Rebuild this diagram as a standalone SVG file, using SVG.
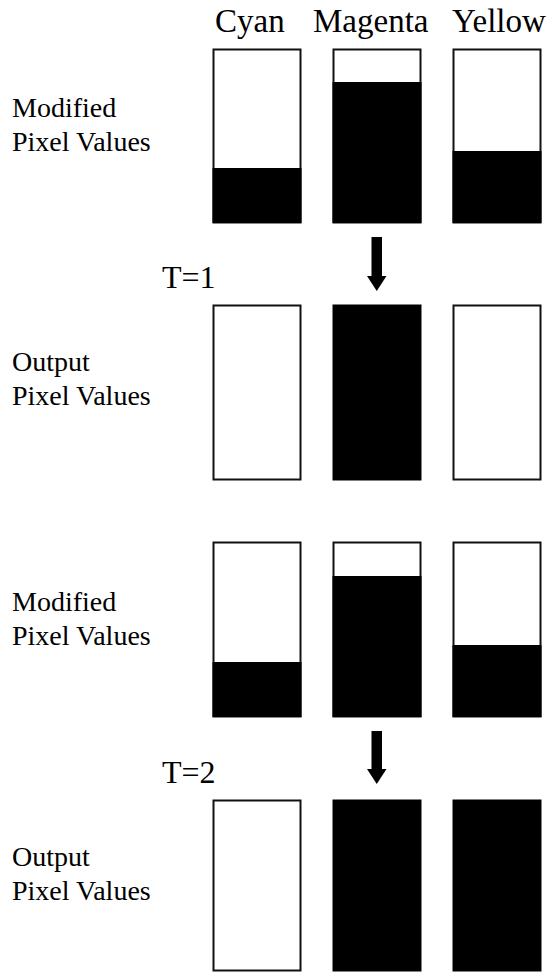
<svg xmlns="http://www.w3.org/2000/svg" width="550" height="973" viewBox="0 0 550 973">
  <style>
    .head { font-size: 33px; }
    .label { font-size: 28px; }
    .step { font-size: 32px; }
    .box { fill: #fff; stroke: #111; stroke-width: 2; }
    .level { fill: #000; }
    .arrow { fill: #000; }
  </style>

  <g style="font-family: 'Liberation Serif', 'DejaVu Serif', serif; fill: #000;">
    <!-- channel headers -->
    <g id="headers">
      <text class="head" x="215" y="32">Cyan</text>
      <text class="head" x="313" y="32">Magenta</text>
      <text class="head" x="452" y="32">Yellow</text>
    </g>

    <!-- row 1: modified pixel values -->
    <g id="row-modified-1">
      <text class="label" x="12" y="117">Modified</text>
      <text class="label" x="12" y="151">Pixel Values</text>
      <g id="mod1-cyan">
        <rect class="box" x="213.5" y="49.5" width="87" height="173"/>
        <rect class="level" x="212.5" y="168" width="89" height="55"/>
      </g>
      <g id="mod1-magenta">
        <rect class="box" x="333.5" y="49.5" width="87" height="173"/>
        <rect class="level" x="332.5" y="82" width="89" height="141"/>
      </g>
      <g id="mod1-yellow">
        <rect class="box" x="453.5" y="49.5" width="87" height="173"/>
        <rect class="level" x="452.5" y="151" width="89" height="72"/>
      </g>
    </g>

    <!-- row 2: output pixel values, T=1 -->
    <g id="row-output-1">
      <text class="step" x="162" y="288">T=1</text>
      <text class="label" x="12" y="371">Output</text>
      <text class="label" x="12" y="405">Pixel Values</text>
      <g id="out1-cyan">
        <rect class="box" x="213.5" y="305.5" width="87" height="174"/>
      </g>
      <g id="out1-magenta">
        <rect class="level" x="332.5" y="304.5" width="89" height="176"/>
      </g>
      <g id="out1-yellow">
        <rect class="box" x="453.5" y="305.5" width="87" height="174"/>
      </g>
    </g>

    <!-- row 3: modified pixel values -->
    <g id="row-modified-2">
      <text class="label" x="12" y="611">Modified</text>
      <text class="label" x="12" y="645">Pixel Values</text>
      <g id="mod2-cyan">
        <rect class="box" x="213.5" y="542.5" width="87" height="174"/>
        <rect class="level" x="212.5" y="662" width="89" height="55"/>
      </g>
      <g id="mod2-magenta">
        <rect class="box" x="333.5" y="542.5" width="87" height="174"/>
        <rect class="level" x="332.5" y="576" width="89" height="141"/>
      </g>
      <g id="mod2-yellow">
        <rect class="box" x="453.5" y="542.5" width="87" height="174"/>
        <rect class="level" x="452.5" y="645" width="89" height="72"/>
      </g>
    </g>

    <!-- row 4: output pixel values, T=2 -->
    <g id="row-output-2">
      <text class="step" x="162" y="783">T=2</text>
      <text class="label" x="12" y="866">Output</text>
      <text class="label" x="12" y="900">Pixel Values</text>
      <g id="out2-cyan">
        <rect class="box" x="213.5" y="800.5" width="87" height="170"/>
      </g>
      <g id="out2-magenta">
        <rect class="level" x="332.5" y="799.5" width="89" height="172"/>
      </g>
      <g id="out2-yellow">
        <rect class="level" x="452.5" y="799.5" width="89" height="172"/>
      </g>
    </g>
  </g>

  <!-- thresholding arrows -->
  <g id="connectors">
    <path class="arrow" d="M371.5,237 H382 V276 H386.5 L376.75,291 L367,276 H371.5 Z"/>
    <path class="arrow" d="M371.5,731 H382 V769 H386.5 L376.75,784 L367,769 H371.5 Z"/>
  </g>
</svg>
